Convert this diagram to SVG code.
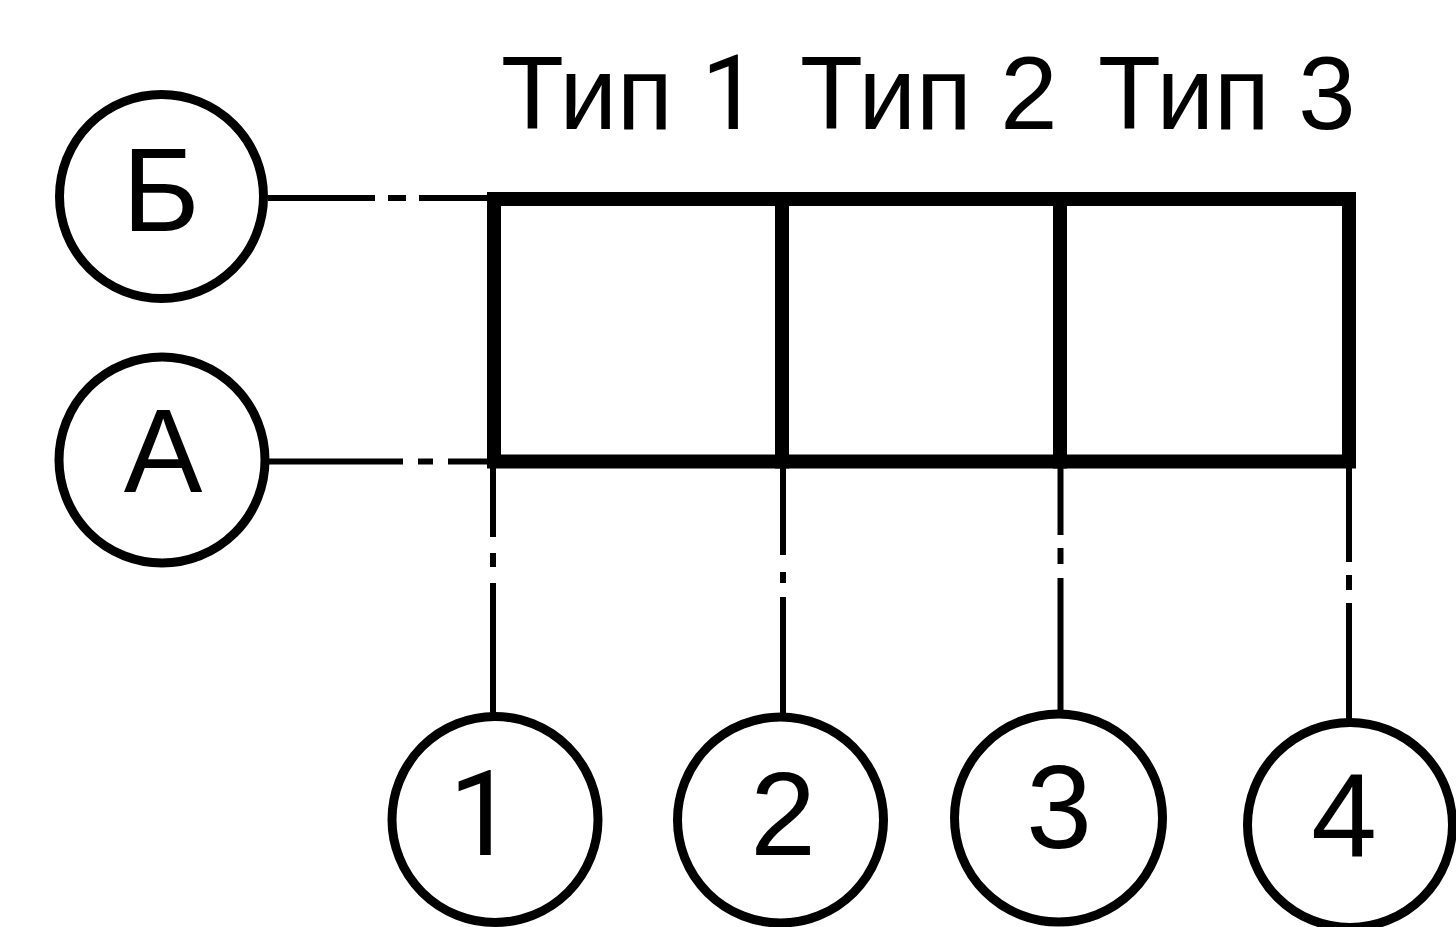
<svg xmlns="http://www.w3.org/2000/svg" width="1456" height="927" viewBox="0 0 1456 927">
<style>
.bg{fill:#fff}
.circ{fill:none;stroke:#000;stroke-width:9}
.thick{stroke:#000;stroke-width:14;fill:none;stroke-linecap:square}
.thin{stroke:#000;stroke-width:6;fill:none}
.lbl{font-family:"Liberation Sans",Arial,sans-serif;font-size:118px;fill:#000;text-anchor:middle}
.title{font-family:"Liberation Sans",Arial,sans-serif;font-size:103px;fill:#000}
.one{font-family:Roboto,"Liberation Sans",sans-serif}
</style>
<rect class="bg" x="0" y="0" width="1456" height="927"/>
<g id="titles">
<text class="title" x="501" y="129">Тип <tspan class="one">1</tspan></text>
<text class="title" x="800" y="129">Тип 2</text>
<text class="title" x="1098" y="129">Тип 3</text>
</g>
<g id="connectors">
<line class="thin" x1="268" y1="198" x2="375" y2="198"/>
<line class="thin" x1="388" y1="198" x2="406" y2="198"/>
<line class="thin" x1="419" y1="198" x2="490" y2="198"/>
<line class="thin" x1="268" y1="461.5" x2="403" y2="461.5"/>
<line class="thin" x1="418" y1="461.5" x2="433" y2="461.5"/>
<line class="thin" x1="448" y1="461.5" x2="490" y2="461.5"/>
<line class="thin" x1="493" y1="462" x2="493" y2="537"/>
<line class="thin" x1="493" y1="553" x2="493" y2="567"/>
<line class="thin" x1="493" y1="583" x2="493" y2="714"/>
<line class="thin" x1="783" y1="462" x2="783" y2="555"/>
<line class="thin" x1="783" y1="572" x2="783" y2="583"/>
<line class="thin" x1="783" y1="597" x2="783" y2="715"/>
<line class="thin" x1="1060.5" y1="462" x2="1060.5" y2="535"/>
<line class="thin" x1="1060.5" y1="548" x2="1060.5" y2="564"/>
<line class="thin" x1="1060.5" y1="578" x2="1060.5" y2="713"/>
<line class="thin" x1="1349" y1="462" x2="1349" y2="562"/>
<line class="thin" x1="1349" y1="575" x2="1349" y2="590"/>
<line class="thin" x1="1349" y1="603" x2="1349" y2="719"/>
</g>
<g id="table">
<rect class="thick" x="494" y="199" width="855" height="262.5"/>
<line class="thick" x1="782" y1="199" x2="782" y2="461.5"/>
<line class="thick" x1="1060" y1="199" x2="1060" y2="461.5"/>
</g>
<g id="node-B">
<circle class="circ" cx="161.5" cy="196.5" r="102"/>
<text class="lbl" x="161" y="231">Б</text>
</g>
<g id="node-A">
<circle class="circ" cx="162" cy="460" r="103"/>
<text class="lbl" x="163" y="492">А</text>
</g>
<g id="node-1">
<circle class="circ" cx="495" cy="819.5" r="103"/>
<text class="lbl one" x="482" y="855">1</text>
</g>
<g id="node-2">
<circle class="circ" cx="780.5" cy="820" r="103"/>
<text class="lbl" x="783" y="855">2</text>
</g>
<g id="node-3">
<circle class="circ" cx="1058.5" cy="818" r="104"/>
<text class="lbl" x="1059" y="848">3</text>
</g>
<g id="node-4">
<circle class="circ" cx="1350" cy="825" r="102.5"/>
<text class="lbl" x="1344" y="857">4</text>
</g>
</svg>
